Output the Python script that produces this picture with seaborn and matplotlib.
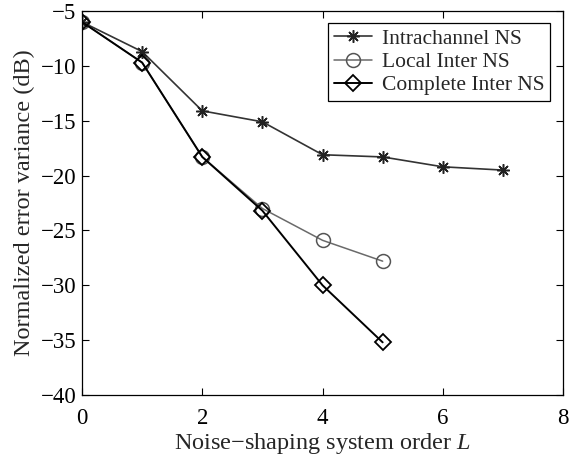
import matplotlib
matplotlib.use("Agg")
import matplotlib.pyplot as plt
import seaborn as sns

intra_x = [0, 1, 2, 3, 4, 5, 6, 7]
intra_y = [-6.0, -8.7, -14.1, -15.1, -18.1, -18.3, -19.2, -19.5]
local_x = [0, 1, 2, 3, 4, 5]
local_y = [-6.0, -9.7, -18.3, -23.0, -25.9, -27.8]
comp_x = [0, 1, 2, 3, 4, 5]
comp_y = [-6.0, -9.7, -18.3, -23.2, -30.0, -35.2]
labels = ["Intrachannel NS", "Local Inter NS", "Complete Inter NS"]
xticks = [0, 2, 4, 6, 8]
yticks = [-40, -35, -30, -25, -20, -15, -10, -5]

sns.set_style("ticks")
plt.rcParams['font.family'] = ['Liberation Serif', 'DejaVu Serif']
plt.rcParams['mathtext.fontset'] = 'custom'
plt.rcParams['mathtext.it'] = 'Liberation Serif:italic'
plt.rcParams['mathtext.rm'] = 'Liberation Serif'

fig = plt.figure(figsize=(5.7, 4.59), dpi=100)
ax = fig.add_axes([0.1439, 0.1394, 0.8439, 0.8366])

sns.lineplot(x=intra_x, y=intra_y, ax=ax, color="#333333", lw=1.2,
             marker=(8, 2, 0), markersize=9, markeredgecolor="#222222",
             markeredgewidth=1.1, label=labels[0])
sns.lineplot(x=local_x, y=local_y, ax=ax, color="#6a6a6a", lw=1.1,
             marker="o", markersize=10, markerfacecolor="none",
             markeredgecolor="#555555", markeredgewidth=1.1, label=labels[1])
sns.lineplot(x=comp_x, y=comp_y, ax=ax, color="black", lw=1.4,
             marker="D", markersize=8.5, markerfacecolor="none",
             markeredgecolor="black", markeredgewidth=1.3, label=labels[2])

ax.set_xlim(0, 8)
ax.set_ylim(-40, -5)
ax.set_xticks(xticks)
ax.set_yticks(yticks)
ax.set_yticklabels([f"\u2212{abs(v)}" for v in yticks])
ax.tick_params(direction="in", top=True, right=True, labelsize=16.5, length=5,
               width=0.8, colors="black")
ax.tick_params(axis="x", pad=9)
ax.tick_params(axis="y", pad=4)
for s in ax.spines.values():
    s.set_visible(True)
    s.set_linewidth(0.9)
    s.set_color("black")
ax.set_xlabel(r"Noise$-$shaping system order $L$", fontsize=17.5, labelpad=2)
ax.set_ylabel("Normalized error variance (dB)", fontsize=17.5, labelpad=4)
leg = ax.legend(loc="upper right", fontsize=15.5, frameon=True, fancybox=False,
                edgecolor="black", framealpha=1, borderpad=0.25, labelspacing=0.15,
                handlelength=1.8, handletextpad=0.45, borderaxespad=0,
                bbox_to_anchor=(0.973, 0.968))
leg.get_frame().set_linewidth(0.9)
fig.savefig("out.png", dpi=100)
